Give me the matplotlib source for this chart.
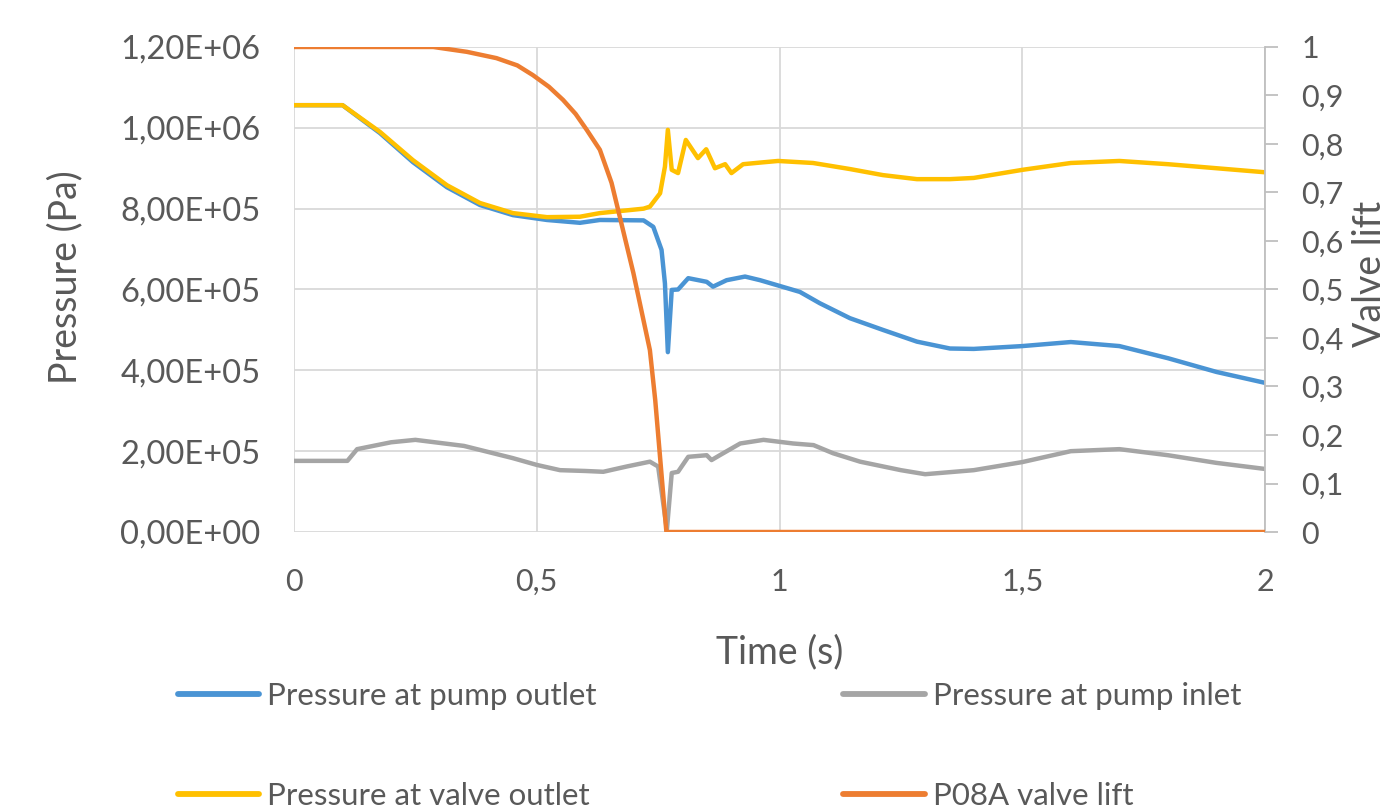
import matplotlib
matplotlib.use("Agg")
import matplotlib.pyplot as plt
from matplotlib.ticker import FuncFormatter, MultipleLocator

# ---- DATA ----
t_outlet = [0, 0.1, 0.177, 0.245, 0.315, 0.383, 0.451, 0.521, 0.589, 0.63, 0.72, 0.74,
            0.757, 0.764, 0.77, 0.778, 0.791, 0.812, 0.85, 0.863, 0.891, 0.929, 0.96,
            0.994, 1.042, 1.083, 1.145, 1.213, 1.283, 1.351, 1.4, 1.5, 1.6, 1.7, 1.8,
            1.9, 2.0]
p_outlet = [1.056e6, 1.056e6, 0.987e6, 0.915e6, 0.853e6, 0.809e6, 0.784e6, 0.772e6,
            0.765e6, 0.772e6, 0.771e6, 0.755e6, 0.698e6, 0.615e6, 0.445e6, 0.599e6,
            0.600e6, 0.628e6, 0.619e6, 0.607e6, 0.623e6, 0.632e6, 0.623e6, 0.611e6,
            0.594e6, 0.566e6, 0.529e6, 0.500e6, 0.471e6, 0.454e6, 0.453e6, 0.460e6,
            0.470e6, 0.460e6, 0.430e6, 0.396e6, 0.369e6]

t_inlet = [0, 0.11, 0.13, 0.2, 0.25, 0.35, 0.45, 0.5, 0.548, 0.6, 0.637, 0.685, 0.733,
           0.75, 0.768, 0.778, 0.791, 0.812, 0.85, 0.86, 0.877, 0.919, 0.967, 1.028,
           1.07, 1.11, 1.166, 1.25, 1.3, 1.4, 1.5, 1.6, 1.7, 1.8, 1.9, 2.0]
p_inlet = [0.176e6, 0.176e6, 0.205e6, 0.222e6, 0.228e6, 0.213e6, 0.183e6, 0.166e6,
           0.153e6, 0.151e6, 0.149e6, 0.162e6, 0.174e6, 0.162e6, 0.005e6, 0.146e6,
           0.149e6, 0.186e6, 0.190e6, 0.178e6, 0.190e6, 0.219e6, 0.228e6, 0.219e6,
           0.215e6, 0.195e6, 0.174e6, 0.153e6, 0.143e6, 0.153e6, 0.173e6, 0.200e6,
           0.205e6, 0.190e6, 0.171e6, 0.156e6]

t_valve = [0, 0.1, 0.177, 0.245, 0.315, 0.383, 0.451, 0.521, 0.589, 0.63, 0.72, 0.733,
           0.754, 0.764, 0.770, 0.778, 0.791, 0.807, 0.832, 0.849, 0.867, 0.888, 0.901,
           0.925, 0.96, 0.997, 1.069, 1.145, 1.213, 1.283, 1.351, 1.4, 1.5, 1.6, 1.7,
           1.8, 1.9, 2.0]
p_valve = [1.056e6, 1.056e6, 0.990e6, 0.920e6, 0.858e6, 0.814e6, 0.789e6, 0.779e6,
           0.780e6, 0.789e6, 0.800e6, 0.805e6, 0.838e6, 0.904e6, 0.995e6, 0.896e6,
           0.888e6, 0.970e6, 0.925e6, 0.947e6, 0.900e6, 0.910e6, 0.888e6, 0.910e6,
           0.914e6, 0.918e6, 0.913e6, 0.898e6, 0.883e6, 0.873e6, 0.873e6, 0.876e6,
           0.896e6, 0.913e6, 0.918e6, 0.910e6, 0.900e6, 0.890e6]

t_lift = [0, 0.287, 0.356, 0.417, 0.46, 0.492, 0.525, 0.554, 0.58, 0.603, 0.63, 0.654,
          0.671, 0.699, 0.733, 0.744, 0.767, 2.0]
lift = [1.0, 1.0, 0.99, 0.977, 0.962, 0.942, 0.918, 0.891, 0.862, 0.829, 0.788, 0.72,
        0.65, 0.534, 0.375, 0.272, 0.0, 0.0]

labels = ["Pressure at pump outlet", "Pressure at pump inlet",
          "Pressure at valve outlet", "P08A valve lift"]

# ---- STYLE ----
plt.rcParams['font.family'] = ['Lato', 'DejaVu Sans']
TXT = '#595959'
GRID = '#D9D9D9'
C_BLUE, C_GREY, C_YEL, C_ORG = '#4A94D4', '#A5A5A5', '#FFC000', '#ED7D31'
LW = 3.2

fig = plt.figure(figsize=(13.94, 8.10), dpi=100)
ax = fig.add_axes([0.2109, 0.3432, 0.6966, 0.5988])
ax2 = ax.twinx()

l1, = ax.plot(t_outlet, p_outlet, color=C_BLUE, lw=LW, zorder=3)
l2, = ax.plot(t_inlet, p_inlet, color=C_GREY, lw=LW, zorder=3)
l3, = ax.plot(t_valve, p_valve, color=C_YEL, lw=LW, zorder=3)
l4, = ax2.plot(t_lift, lift, color=C_ORG, lw=LW, zorder=3)

ax.set_xlim(0, 2)
ax.set_ylim(0, 1.2e6)
ax2.set_ylim(0, 1)
ax.xaxis.set_major_locator(MultipleLocator(0.5))
ax.yaxis.set_major_locator(MultipleLocator(2e5))
ax2.yaxis.set_major_locator(MultipleLocator(0.1))

comma = lambda s: s.replace('.', ',')
ax.yaxis.set_major_formatter(FuncFormatter(lambda v, p: comma(f"{v:.2E}")))
ax.xaxis.set_major_formatter(FuncFormatter(lambda v, p: comma(f"{v:g}")))
ax2.yaxis.set_major_formatter(FuncFormatter(lambda v, p: comma(f"{v:.1f}".rstrip('0').rstrip('.')) if v else "0"))

ax.grid(True, color=GRID, lw=1.3, zorder=0)
ax.set_axisbelow(True)
for a in (ax, ax2):
    for s in a.spines.values():
        s.set_visible(False)
ax2.spines['right'].set_visible(True)
ax2.spines['right'].set_color('#BFBFBF')
ax2.spines['right'].set_linewidth(1.3)

ax.tick_params(axis='x', length=0, labelsize=22, colors=TXT, pad=26)
ax.tick_params(axis='y', length=0, labelsize=23.5, colors=TXT, pad=24)
ax2.tick_params(axis='y', length=9, width=1.3, color='#BFBFBF', direction='out',
                labelsize=22, labelcolor=TXT, pad=17)

fig.text(0.047, 0.658, "Pressure (Pa)", rotation=90, ha='center', va='center',
         fontsize=27, color=TXT)
fig.text(0.559, 0.195, "Time (s)", ha='center', va='center', fontsize=27, color=TXT)
fig.text(0.983, 0.662, "Valve lift", rotation=90, ha='center', va='center',
         fontsize=27, color=TXT)

leg = fig.legend([l1, l3, l2, l4], [labels[0], labels[2], labels[1], labels[3]],
                 ncol=2, loc='upper left', bbox_to_anchor=(0.1277, 0.158),
                 frameon=False, fontsize=22.5, handlelength=2.6, handletextpad=0.25,
                 columnspacing=7.9, labelspacing=2.3, borderpad=0, borderaxespad=0,
                 labelcolor=TXT)
for h in leg.get_lines():
    h.set_linewidth(4.2)
    h.set_solid_capstyle('round')

fig.savefig('out.png', dpi=100)
